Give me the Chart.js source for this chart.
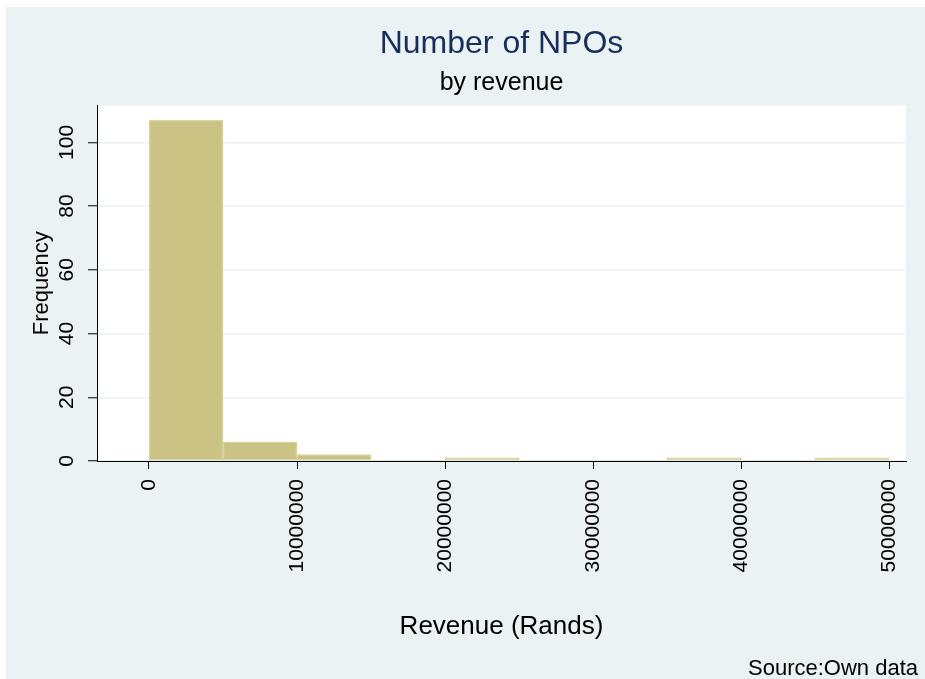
<!DOCTYPE html>
<html>
<head>
<meta charset="utf-8">
<title>Number of NPOs</title>
<script src="https://cdn.jsdelivr.net/npm/chart.js@4.4.1/dist/chart.umd.min.js"></script>
<style>
  body { margin: 0; background: #fff; }
  canvas { display: block; }
</style>
</head>
<body>
<canvas id="myChart" width="925" height="679"></canvas>
<script>
// histogram bins (Rands), width 5 million
const binStarts = [0, 5000000, 10000000, 15000000, 20000000, 25000000, 30000000, 35000000, 40000000, 45000000];
const binWidth = 5000000;
const counts = [107, 6, 2, 0, 1, 0, 0, 1, 0, 1];

const xTicks = [0, 10000000, 20000000, 30000000, 40000000, 50000000];
const yTicks = [0, 20, 40, 60, 80, 100];

const FONT = 'Liberation Sans, Arial, Helvetica, sans-serif';

const points = binStarts.map((b, i) => ({ x: b + binWidth / 2, y: counts[i] }));

// stata-ish backdrop: bluish gray page, white plot region
const backdrop = {
  id: 'backdrop',
  beforeDraw: (chart) => {
    const { ctx, chartArea: a } = chart;
    ctx.save();
    ctx.fillStyle = '#ffffff';
    ctx.fillRect(0, 0, chart.width, chart.height);
    ctx.fillStyle = '#eaf2f3';
    ctx.fillRect(6, 7, chart.width - 6, chart.height - 7);
    ctx.fillStyle = '#ffffff';
    ctx.fillRect(a.left, a.top, a.right - a.left, a.bottom - a.top);
    ctx.restore();
  },
  afterDraw: (chart) => {
    // note at bottom right
    const ctx = chart.ctx;
    ctx.save();
    ctx.font = '22px ' + FONT;
    ctx.fillStyle = '#000';
    ctx.textAlign = 'right';
    ctx.textBaseline = 'alphabetic';
    ctx.fillText('Source:Own data', 918, 675);
    ctx.restore();
  }
};

new Chart($('#myChart'), {
  type: 'bar',
  data: {
    datasets: [{
      data: points,
      backgroundColor: '#cbc383',
      borderColor: '#d8d3a0',
      borderWidth: (c) => (c.raw && c.raw.y > 0 ? 1.5 : 0),
      borderSkipped: false,
      barPercentage: 1,
      categoryPercentage: 1
    }]
  },
  options: {
    responsive: false,
    animation: false,
    layout: { padding: { left: 6, right: 19, top: 0, bottom: 0 } },
    plugins: {
      legend: { display: false },
      tooltip: { enabled: false },
      title: {
        display: true,
        fullSize: false,
        text: 'Number of NPOs',
        color: '#1a2e5c',
        font: { family: FONT, size: 32, weight: 'normal' },
        padding: { top: 25, bottom: 5 }
      },
      subtitle: {
        display: true,
        fullSize: false,
        text: 'by revenue',
        color: '#000',
        font: { family: FONT, size: 25, weight: 'normal' },
        padding: { top: 0, bottom: 7 }
      }
    },
    scales: {
      x: {
        type: 'linear',
        offset: false,
        min: -3510000,
        max: 51130000,
        afterBuildTicks: (s) => { s.ticks = xTicks.map(v => ({ value: v })); },
        afterFit: (s) => { s.height = 218; },
        grid: { display: true, offset: false, drawOnChartArea: false, tickLength: 8, tickColor: '#000', tickWidth: 1 },
        border: { display: true, color: '#000', width: 1 },
        ticks: {
          minRotation: 90,
          maxRotation: 90,
          autoSkip: false,
          padding: 10,
          color: '#000',
          font: { family: FONT, size: 21 },
          callback: (v) => String(v)
        },
        title: {
          display: true,
          text: 'Revenue (Rands)',
          color: '#000',
          font: { family: FONT, size: 26 },
          padding: { top: 0, bottom: 37 }
        }
      },
      y: {
        min: 0,
        max: 111.6,
        afterBuildTicks: (s) => { s.ticks = yTicks.map(v => ({ value: v })); },
        afterFit: (s) => { s.width = 91; },
        grid: { color: '#eaf2f3', lineWidth: 1.5, tickLength: 9, tickColor: '#000', tickWidth: 1 },
        border: { display: true, color: '#000', width: 1 },
        ticks: {
          minRotation: 90,
          maxRotation: 90,
          crossAlign: 'center',
          padding: 3,
          color: '#000',
          font: { family: FONT, size: 21 },
          callback: (v) => String(v)
        },
        title: {
          display: true,
          text: 'Frequency',
          color: '#000',
          font: { family: FONT, size: 22 },
          padding: { top: 23, bottom: 0 }
        }
      }
    }
  },
  plugins: [backdrop]
});

function $(sel) { return document.querySelector(sel); }
</script>
</body>
</html>
